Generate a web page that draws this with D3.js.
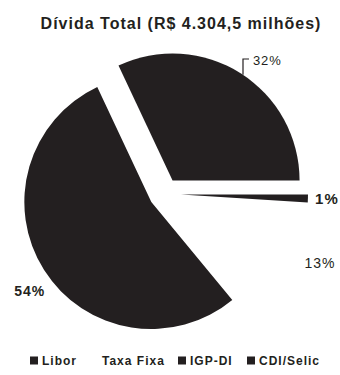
<!DOCTYPE html>
<html>
<head>
<meta charset="utf-8">
<script src="https://cdn.jsdelivr.net/npm/d3@7"></script>
<style>
  html, body { margin: 0; padding: 0; background: #fff; }
  svg { display: block; }
  text { font-family: "Liberation Sans", Arial, sans-serif; fill: #231f20; }
</style>
</head>
<body>
<svg id="chart" width="340" height="375"></svg>
<script>
// Composição da dívida total por indexador (%)
const title = "Dívida Total (R$ 4.304,5 milhões)";
const categories = ["Libor", "Taxa Fixa", "IGP-DI", "CDI/Selic"];
const values = [32, 13, 1, 54];
const colors = ["#231f20", "#ffffff", "#231f20", "#231f20"];
// order in which slices run clockwise round the pie
const sliceOrder = ["Libor", "IGP-DI", "Taxa Fixa", "CDI/Selic"];

const data = categories.map((c, i) => ({ cat: c, value: values[i], color: colors[i] }));

const svg = d3.select("#chart");
const W = 340;

svg.append("text")
  .attr("x", W / 2 + 11)
  .attr("y", 29)
  .attr("text-anchor", "middle")
  .attr("font-size", 16)
  .attr("font-weight", "bold")
  .attr("letter-spacing", 1)
  .text(title);

const cx = 164, cy = 194, R = 127;
const startAngle = Math.PI / 2 - (values[0] / 100) * 2 * Math.PI;

const pie = d3.pie()
  .value(d => d.value)
  .sort((a, b) => sliceOrder.indexOf(a.cat) - sliceOrder.indexOf(b.cat))
  .startAngle(startAngle)
  .endAngle(startAngle + 2 * Math.PI);

const arcs = pie(data);
const arc = d3.arc().innerRadius(0).outerRadius(R);

// how far each slice is pulled out from the centre
const explode = { "Libor": 16, "IGP-DI": 17, "Taxa Fixa": 15, "CDI/Selic": 15 };

const g = svg.append("g").attr("transform", `translate(${cx},${cy})`);

function offset(d, r) {
  const a = (d.startAngle + d.endAngle) / 2;
  return [Math.sin(a) * r, -Math.cos(a) * r];
}

g.selectAll("path.slice")
  .data(arcs)
  .join("path")
  .attr("class", "slice")
  .attr("d", arc)
  .attr("fill", d => d.data.color)
  .attr("transform", d => {
    const [dx, dy] = offset(d, explode[d.data.cat]);
    return `translate(${dx},${dy})`;
  });

// percentage labels
const labelR = 165;
const nudge = {
  "Libor": [15, 6],
  "IGP-DI": [-2, 0],
  "Taxa Fixa": [9, -6],
  "CDI/Selic": [5, 9]
};
const labelSize = { "Libor": 13, "IGP-DI": 15, "Taxa Fixa": 14, "CDI/Selic": 14 };

g.selectAll("text.pct")
  .data(arcs)
  .join("text")
  .attr("class", "pct")
  .attr("x", d => offset(d, labelR)[0] + nudge[d.data.cat][0])
  .attr("y", d => offset(d, labelR)[1] + nudge[d.data.cat][1])
  .attr("dy", "0.35em")
  .attr("text-anchor", "middle")
  .attr("font-size", d => labelSize[d.data.cat])
  .attr("font-weight", d => d.data.cat === "IGP-DI" || d.data.cat === "CDI/Selic" ? "bold" : "normal")
  .attr("letter-spacing", 1)
  .text(d => d.data.value + "%");

// leader line for the Libor label
const lib = arcs.find(d => d.data.cat === "Libor");
const [lox, loy] = offset(lib, explode["Libor"]);
const lx = 79;
const ly = -Math.sqrt(R * R - (lx - lox) * (lx - lox)) + loy;
g.append("path")
  .attr("d", d3.line()([[lx, ly], [lx, -135], [lx + 6, -135]]))
  .attr("fill", "none")
  .attr("stroke", "#231f20")
  .attr("stroke-width", 1.2);

// legend
const legendX = { "Libor": 30, "Taxa Fixa": 90, "IGP-DI": 178, "CDI/Selic": 247 };
const legend = svg.append("g").attr("transform", "translate(0,361)");
const items = legend.selectAll("g")
  .data(data)
  .join("g")
  .attr("transform", d => `translate(${legendX[d.cat]},0)`);
items.append("rect")
  .attr("x", 0).attr("y", -4.5)
  .attr("width", 8).attr("height", 8)
  .attr("fill", d => d.color);
items.append("text")
  .attr("x", 12)
  .attr("y", 0)
  .attr("dy", "0.35em")
  .attr("font-size", 12)
  .attr("font-weight", "bold")
  .attr("letter-spacing", 1)
  .text(d => d.cat);
</script>
</body>
</html>
